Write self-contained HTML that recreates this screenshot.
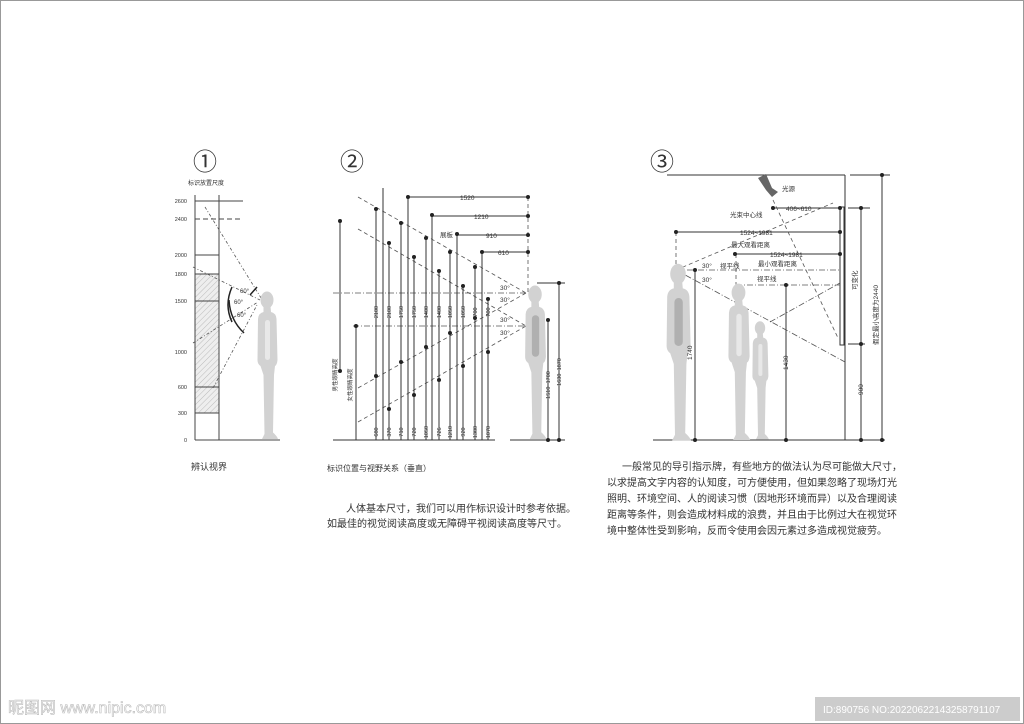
<!DOCTYPE html>
<html><head><meta charset="utf-8"><style>
html,body{margin:0;padding:0;background:#fff}
svg{display:block}
text{font-family:"Liberation Sans","Noto Sans CJK SC",sans-serif;fill:#333}
</style></head><body>
<svg width="1024" height="724" viewBox="0 0 1024 724" xmlns="http://www.w3.org/2000/svg">
<defs>
<pattern id="hat" width="4" height="4" patternUnits="userSpaceOnUse" patternTransform="rotate(45)"><rect width="4" height="4" fill="#eee"/><line x1="0" y1="0" x2="0" y2="4" stroke="#bbb" stroke-width="1"/></pattern>
<g id="p">
<ellipse cx="50" cy="20" rx="13" ry="17" fill="#d2d2d2"/>
<path d="M43,33 L57,33 L58,44 Q68,46 69,58 L71,140 Q70,150 66,152 L64,170 L62,285 Q70,292 72,298 L40,298 L45,288 L43,170 L37,152 Q31,148 31,140 L32,58 Q33,46 43,44 Z" fill="#d2d2d2"/>
<rect x="46" y="60" width="10" height="80" rx="5" fill="#e8e8e8"/>
</g>
<g id="pd">
<ellipse cx="50" cy="20" rx="13" ry="17" fill="#d2d2d2"/>
<path d="M43,33 L57,33 L58,44 Q68,46 69,58 L71,140 Q70,150 66,152 L64,170 L62,285 Q70,292 72,298 L40,298 L45,288 L43,170 L37,152 Q31,148 31,140 L32,58 Q33,46 43,44 Z" fill="#d2d2d2"/>
<rect x="44" y="60" width="14" height="80" rx="7" fill="#b0b0b0"/>
</g>
</defs>

<!-- Panel 1 -->
<text x="193" y="170" font-size="24" fill="#222">①</text>
<text x="188" y="185" font-size="6">标识放置尺度</text>
<rect x="195" y="274" width="24" height="139" fill="url(#hat)"/>
<g stroke="#444" stroke-width="1" fill="none">
<line x1="195" y1="195" x2="195" y2="440"/>
<line x1="219" y1="195" x2="219" y2="440"/>
<line x1="195" y1="440" x2="280" y2="440"/>
<line x1="195" y1="201" x2="243" y2="201"/>
<line x1="195" y1="219" x2="243" y2="219" stroke-dasharray="5,3"/>
<line x1="195" y1="255" x2="219" y2="255"/>
<line x1="195" y1="274" x2="219" y2="274"/>
<line x1="195" y1="301" x2="219" y2="301"/>
<line x1="195" y1="387" x2="219" y2="387"/>
<line x1="195" y1="413" x2="219" y2="413"/>
</g>
<g stroke="#555" stroke-width="0.8" stroke-dasharray="3,2,1,2" fill="none">
<line x1="205" y1="207" x2="266" y2="306"/>
<line x1="193" y1="267" x2="260" y2="300"/>
<line x1="193" y1="343" x2="258" y2="302"/>
<line x1="213" y1="388" x2="257" y2="305"/>
</g>
<path d="M232,287 Q224,305 232,322" stroke="#222" stroke-width="1.5" fill="none"/>
<path d="M229,300 Q230,320 244,333" stroke="#222" stroke-width="1.5" fill="none"/>
<line x1="250" y1="295" x2="257" y2="287" stroke="#222" stroke-width="1.5"/>
<text x="240" y="293" font-size="6">60°</text><text x="234" y="304" font-size="6">60°</text><text x="237" y="317" font-size="6">60°</text>
<use href="#p" transform="translate(242,290) scale(0.5)"/>
<g font-size="5.5" text-anchor="end"><text x="187" y="203">2600</text><text x="187" y="221">2400</text><text x="187" y="257">2000</text><text x="187" y="276">1800</text><text x="187" y="303">1500</text><text x="187" y="354">1000</text><text x="187" y="389">600</text><text x="187" y="415">300</text><text x="187" y="442">0</text></g>
<text x="191" y="470" font-size="9">辨认视界</text>

<!-- Panel 2 -->
<text x="340" y="170" font-size="24" fill="#222">②</text>
<g stroke="#555" stroke-width="0.8" stroke-dasharray="4,3" fill="none">
<line x1="358" y1="197" x2="526" y2="293"/><line x1="358" y1="229" x2="526" y2="326"/>
<line x1="358" y1="388" x2="526" y2="293"/><line x1="358" y1="422" x2="526" y2="326"/>
<line x1="528" y1="197" x2="528" y2="292"/>
</g>
<g stroke="#555" stroke-width="0.8" stroke-dasharray="6,2,1,2"><line x1="333" y1="293" x2="525" y2="293"/><line x1="353" y1="326" x2="525" y2="326"/></g>
<g stroke="#333" stroke-width="1">
<line x1="333" y1="440" x2="495" y2="440"/><line x1="510" y1="440" x2="565" y2="440"/>
<line x1="340" y1="221" x2="340" y2="371"/><line x1="356" y1="326" x2="356" y2="440"/>
<line x1="376" y1="209" x2="376" y2="440"/><line x1="383" y1="188" x2="383" y2="440"/><line x1="389" y1="243" x2="389" y2="440"/>
<line x1="401" y1="223" x2="401" y2="440"/><line x1="408" y1="197" x2="408" y2="440"/><line x1="414" y1="257" x2="414" y2="440"/>
<line x1="426" y1="238" x2="426" y2="440"/><line x1="432" y1="215" x2="432" y2="440"/><line x1="439" y1="271" x2="439" y2="440"/>
<line x1="450" y1="252" x2="450" y2="440"/><line x1="457" y1="234" x2="457" y2="440"/><line x1="463" y1="286" x2="463" y2="440"/>
<line x1="475" y1="267" x2="475" y2="440"/><line x1="482" y1="252" x2="482" y2="440"/><line x1="488" y1="299" x2="488" y2="440"/>
<line x1="408" y1="197" x2="528" y2="197"/><line x1="432" y1="216" x2="528" y2="216"/><line x1="457" y1="235" x2="528" y2="235"/><line x1="482" y1="252" x2="528" y2="252"/>
<line x1="537" y1="283" x2="565" y2="283"/><line x1="559" y1="283" x2="559" y2="440"/><line x1="548" y1="320" x2="548" y2="440"/>
</g>
<g fill="#222">
<circle cx="340" cy="221" r="2"/><circle cx="340" cy="371" r="2"/><circle cx="356" cy="326" r="2"/>
<circle cx="376" cy="209" r="2"/><circle cx="389" cy="243" r="2"/><circle cx="401" cy="223" r="2"/><circle cx="408" cy="197" r="2"/><circle cx="414" cy="257" r="2"/><circle cx="426" cy="238" r="2"/><circle cx="432" cy="215" r="2"/><circle cx="439" cy="271" r="2"/><circle cx="450" cy="252" r="2"/><circle cx="457" cy="234" r="2"/><circle cx="463" cy="286" r="2"/><circle cx="475" cy="267" r="2"/><circle cx="482" cy="252" r="2"/><circle cx="488" cy="299" r="2"/>
<circle cx="376" cy="376" r="2"/><circle cx="389" cy="409" r="2"/><circle cx="401" cy="362" r="2"/><circle cx="414" cy="395" r="2"/><circle cx="426" cy="347" r="2"/><circle cx="439" cy="380" r="2"/><circle cx="450" cy="333" r="2"/><circle cx="463" cy="366" r="2"/><circle cx="475" cy="318" r="2"/><circle cx="488" cy="352" r="2"/>
<circle cx="528" cy="197" r="2"/><circle cx="528" cy="216" r="2"/><circle cx="528" cy="235" r="2"/><circle cx="528" cy="252" r="2"/>
<circle cx="559" cy="283" r="2"/><circle cx="548" cy="320" r="2"/><circle cx="559" cy="440" r="2"/><circle cx="548" cy="440" r="2"/>
</g>
<g font-size="6.5"><text x="460" y="200">1520</text><text x="474" y="219">1210</text><text x="486" y="238">910</text><text x="498" y="255">610</text><text x="440" y="237">展板</text>
<text x="500" y="290">30°</text><text x="500" y="302">30°</text><text x="500" y="322">30°</text><text x="500" y="335">30°</text></g>
<g font-size="5.5" text-anchor="middle">
<text transform="translate(378,312) rotate(-90)">2100</text><text transform="translate(391,312) rotate(-90)">2100</text><text transform="translate(403,312) rotate(-90)">1750</text><text transform="translate(416,312) rotate(-90)">1750</text><text transform="translate(428,312) rotate(-90)">1400</text><text transform="translate(441,312) rotate(-90)">1400</text><text transform="translate(452,312) rotate(-90)">1050</text><text transform="translate(465,312) rotate(-90)">1050</text><text transform="translate(477,312) rotate(-90)">700</text><text transform="translate(490,312) rotate(-90)">700</text>
<text transform="translate(378,432) rotate(-90)">680</text><text transform="translate(391,432) rotate(-90)">370</text><text transform="translate(403,432) rotate(-90)">710</text><text transform="translate(416,432) rotate(-90)">720</text><text transform="translate(428,432) rotate(-90)">1050</text><text transform="translate(441,432) rotate(-90)">726</text><text transform="translate(452,432) rotate(-90)">1210</text><text transform="translate(465,432) rotate(-90)">920</text><text transform="translate(477,432) rotate(-90)">1380</text><text transform="translate(490,432) rotate(-90)">1070</text>
<text transform="translate(337,375) rotate(-90)">男性眼睛高度</text><text transform="translate(352,385) rotate(-90)">女性眼睛高度</text>
<text transform="translate(550,385) rotate(-90)">1510~1700</text><text transform="translate(561,372) rotate(-90)">1630~1870</text>
</g>
<use href="#pd" transform="translate(509,284) scale(0.52)"/>
<text x="327" y="471" font-size="8">标识位置与视野关系（垂直）</text>
<text x="346" y="512" font-size="10">人体基本尺寸，我们可以用作标识设计时参考依据。</text>
<text x="327" y="527" font-size="10">如最佳的视觉阅读高度或无障碍平视阅读高度等尺寸。</text>

<!-- Panel 3 -->
<text x="650" y="170" font-size="24" fill="#222">③</text>
<g stroke="#333" stroke-width="1" fill="none">
<line x1="667" y1="175" x2="845" y2="175"/><line x1="845" y1="175" x2="845" y2="440"/>
<line x1="653" y1="440" x2="885" y2="440"/>
<rect x="840" y="207" width="4" height="138" fill="#fff"/>
<line x1="773" y1="208" x2="840" y2="208"/><line x1="676" y1="232" x2="840" y2="232"/><line x1="735" y1="254" x2="840" y2="254"/>
<line x1="695" y1="270" x2="695" y2="440"/><line x1="786" y1="285" x2="786" y2="440"/>
<line x1="848" y1="208" x2="870" y2="208"/><line x1="861" y1="208" x2="861" y2="440"/><line x1="848" y1="344" x2="865" y2="344"/>
<line x1="850" y1="175" x2="890" y2="175"/><line x1="882" y1="175" x2="882" y2="440"/>
</g>
<path d="M758,178 L766,174 L772,188 L778,192 L772,197 L766,190 Z" fill="#666"/>
<g stroke="#555" stroke-width="0.8" stroke-dasharray="4,3" fill="none">
<line x1="676" y1="232" x2="676" y2="270"/><line x1="676" y1="270" x2="833" y2="203"/><line x1="773" y1="200" x2="838" y2="338"/><line x1="736" y1="254" x2="736" y2="285"/>
</g>
<g stroke="#555" stroke-width="0.8" stroke-dasharray="6,2,1,2" fill="none">
<line x1="676" y1="270" x2="840" y2="270"/><line x1="736" y1="285" x2="840" y2="285"/><line x1="676" y1="270" x2="845" y2="362"/><line x1="770" y1="322" x2="840" y2="283"/>
</g>
<g fill="#222"><circle cx="773" cy="208" r="2"/><circle cx="676" cy="232" r="2"/><circle cx="735" cy="254" r="2"/><circle cx="840" cy="208" r="2"/><circle cx="840" cy="232" r="2"/><circle cx="840" cy="254" r="2"/><circle cx="695" cy="270" r="2"/><circle cx="786" cy="285" r="2"/><circle cx="695" cy="440" r="2"/><circle cx="786" cy="440" r="2"/><circle cx="861" cy="208" r="2"/><circle cx="861" cy="344" r="2"/><circle cx="861" cy="440" r="2"/><circle cx="882" cy="175" r="2"/><circle cx="882" cy="440" r="2"/></g>
<use href="#pd" transform="translate(648,262) scale(0.6)"/>
<use href="#p" transform="translate(712,282) scale(0.53)"/>
<use href="#p" transform="translate(740,320) scale(0.4)"/>
<g font-size="6.5">
<text x="782" y="191">光源</text><text x="786" y="211">406~610</text><text x="730" y="217">光束中心线</text>
<text x="740" y="235">1524~1981</text><text x="731" y="247">最大观看距离</text><text x="770" y="257">1524~1981</text>
<text x="702" y="268">30°</text><text x="720" y="268">视平线</text><text x="758" y="266">最小观看距离</text>
<text x="702" y="282">30°</text><text x="757" y="281">视平线</text>
<text transform="translate(692,360) rotate(-90)">1740</text><text transform="translate(788,370) rotate(-90)">1430</text>
<text transform="translate(863,395) rotate(-90)">900</text><text transform="translate(857,290) rotate(-90)">可变化</text><text transform="translate(878,345) rotate(-90)">假定最小高度为2440</text>
</g>
<g font-size="10"><text x="622" y="470">一般常见的导引指示牌，有些地方的做法认为尽可能做大尺寸，</text>
<text x="607" y="486">以求提高文字内容的认知度，可方便使用，但如果忽略了现场灯光</text>
<text x="607" y="502">照明、环境空间、人的阅读习惯（因地形环境而异）以及合理阅读</text>
<text x="607" y="518">距离等条件，则会造成材料成的浪费，并且由于比例过大在视觉环</text>
<text x="607" y="534">境中整体性受到影响，反而令使用会因元素过多造成视觉疲劳。</text></g>

<!-- watermark bar -->
<text x="8" y="713" font-size="16" stroke="#bbb" stroke-width="0.6" style="fill:#fff">昵图网 www.nipic.com</text>
<rect x="815" y="697" width="205" height="24" fill="#ccc"/>
<text x="823" y="713" font-size="10" style="fill:#fff">ID:890756 NO:20220622143258791107</text>
<rect x="0.5" y="0.5" width="1023" height="723" fill="none" stroke="#999" stroke-width="1"/>
</svg>
</body></html>
